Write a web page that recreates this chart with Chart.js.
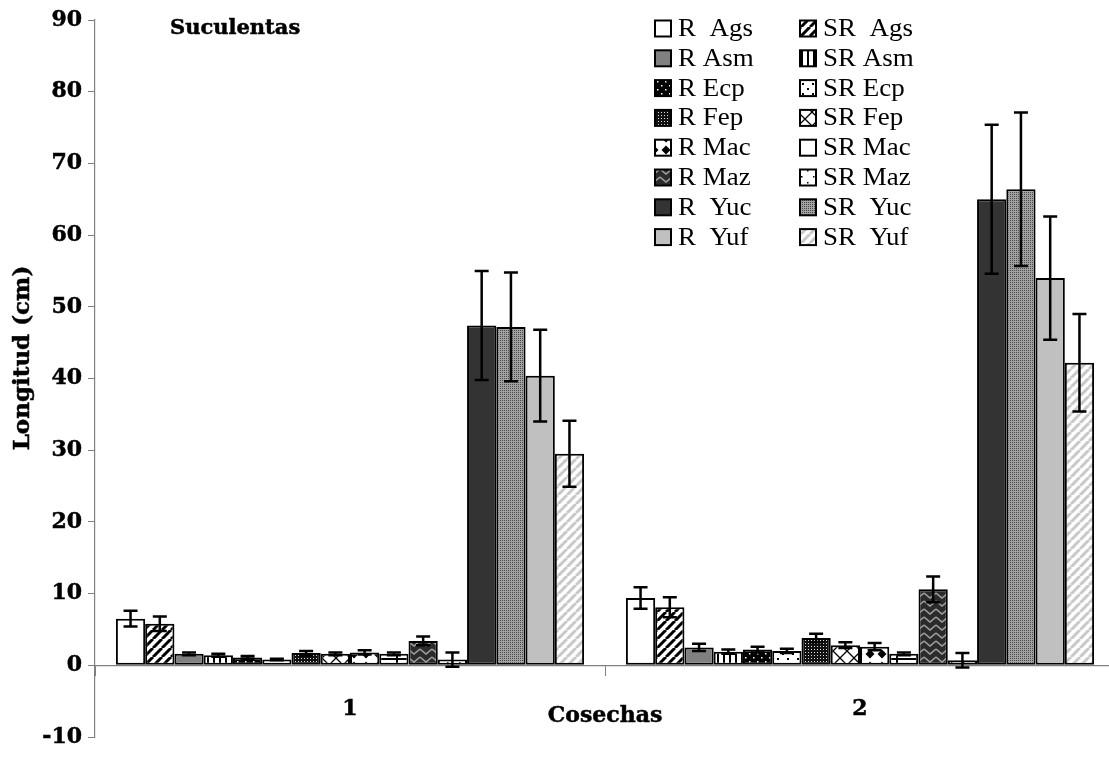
<!DOCTYPE html>
<html>
<head>
<meta charset="utf-8">
<script src="https://cdn.jsdelivr.net/npm/chart.js@4.4.0/dist/chart.umd.min.js"></script>
<style>
  html, body { margin: 0; padding: 0; background: #fff; overflow: hidden; }
  #wrap { width: 1125px; height: 758px; position: relative; }
</style>
</head>
<body>
<div id="wrap"><canvas id="c"></canvas></div>
<script>
// Cosechas (harvests) on the category axis
const cosechas = ['1', '2'];

// Series: rooted (R) and non-rooted (SR) cuttings per species
const seriesLabels = [
  'R  Ags', 'SR  Ags', 'R Asm', 'SR Asm', 'R Ecp', 'SR Ecp', 'R Fep', 'SR Fep',
  'R Mac', 'SR Mac', 'R Maz', 'SR Maz', 'R  Yuc', 'SR  Yuc', 'R  Yuf', 'SR  Yuf'
];

// Mean length (cm) and error, harvest 1
const mediaCosecha1 = [6.5, 5.8, 1.6, 1.4, 1.1, 0.8, 1.7, 1.6, 1.8, 1.6, 3.4, 0.8, 47.4, 47.2, 40.4, 29.5];
const errorCosecha1 = [1.1, 1.0, 0.2, 0.2, 0.2, 0.1, 0.3, 0.2, 0.3, 0.2, 0.6, 1.0, 7.6, 7.6, 6.4, 4.6];

// Mean length (cm) and error, harvest 2
const mediaCosecha2 = [9.4, 8.1, 2.5, 1.9, 2.2, 2.0, 3.8, 2.8, 2.6, 1.6, 10.6, 0.7, 65.0, 66.4, 54.0, 42.2];
const errorCosecha2 = [1.5, 1.4, 0.5, 0.3, 0.4, 0.3, 0.6, 0.4, 0.5, 0.2, 1.8, 1.0, 10.4, 10.7, 8.6, 6.8];

// Value axis ticks
const yTicks = [-10, 0, 10, 20, 30, 40, 50, 60, 70, 80, 90];

// ---------- fill patterns ----------
function tile(w, h, bg, draw) {
  const c = document.createElement('canvas');
  c.width = w; c.height = h;
  const g = c.getContext('2d');
  g.fillStyle = bg; g.fillRect(0, 0, w, h);
  if (draw) draw(g, w, h);
  return g.createPattern(c, 'repeat');
}
function diag(color, lw) {
  return (g, s) => {
    g.strokeStyle = color; g.lineWidth = lw;
    for (const o of [-s, 0, s]) { g.beginPath(); g.moveTo(o, s); g.lineTo(o + s, 0); g.stroke(); }
  };
}
const fills = [
  '#ffffff',                                                     // R Ags
  tile(9, 9, '#fff', diag('#000', 3)),                           // SR Ags
  '#808080',                                                     // R Asm
  tile(6, 6, '#fff', g => { g.fillStyle = '#000'; g.fillRect(3, 0, 2, 6); }), // SR Asm
  tile(8, 8, '#000', g => { g.fillStyle = '#fff'; g.fillRect(1, 1, 1.5, 1.5); g.fillRect(5, 5, 1.5, 1.5); }), // R Ecp
  tile(10, 10, '#fff', g => { g.fillStyle = '#000'; g.fillRect(2, 3, 2, 2); g.fillRect(7, 8, 2, 2); }), // SR Ecp
  tile(3, 3, '#111', g => { g.fillStyle = '#ddd'; g.fillRect(1, 1, 1, 1); }), // R Fep
  tile(14, 14, '#fff', g => {                                   // SR Fep
    g.strokeStyle = '#000'; g.lineWidth = 1.3;
    g.beginPath(); g.moveTo(0, 0); g.lineTo(14, 14); g.moveTo(14, 0); g.lineTo(0, 14); g.stroke();
  }),
  tile(12, 12, '#fff', g => {                                   // R Mac
    g.fillStyle = '#000';
    g.beginPath(); g.moveTo(6, 1.5); g.lineTo(10.5, 6); g.lineTo(6, 10.5); g.lineTo(1.5, 6); g.closePath(); g.fill();
  }),
  tile(20, 20, '#fff', g => { g.fillStyle = '#000'; g.fillRect(16, 0, 2, 20); g.fillRect(0, 18, 20, 2); }), // SR Mac
  tile(12, 8, '#2b2b2b', g => {                                 // R Maz
    g.strokeStyle = '#a0a0a0'; g.lineWidth = 1.6;
    g.beginPath(); g.moveTo(0, 1); g.lineTo(6, 6); g.lineTo(12, 1); g.stroke();
  }),
  tile(12, 12, '#fff', g => { g.fillStyle = '#000'; g.fillRect(3, 2, 1.5, 1.5); g.fillRect(9, 8, 1.5, 1.5); }), // SR Maz
  '#333333',                                                     // R Yuc
  tile(4, 4, '#a2a2a2', g => { g.fillStyle = '#4a4a4a'; g.fillRect(0, 0, 1, 1); g.fillRect(2, 2, 1, 1); g.fillRect(2, 0, 1, 1); g.fillRect(0, 2, 1, 1); }), // SR Yuc
  '#c0c0c0',                                                     // R Yuf
  tile(9, 9, '#fff', diag('#c8c8c8', 3))                         // SR Yuf
];

const datasets = seriesLabels.map((label, i) => ({
  label,
  data: [mediaCosecha1[i], mediaCosecha2[i]],
  errors: [errorCosecha1[i], errorCosecha2[i]],
  backgroundColor: fills[i],
  borderColor: '#000',
  borderWidth: 2,
  borderSkipped: false
}));

// ---------- plugins ----------
const errorBars = {
  id: 'errorBars',
  afterDatasetsDraw(chart) {
    const { ctx } = chart;
    const y = chart.scales.y;
    ctx.save();
    ctx.strokeStyle = '#000';
    ctx.lineWidth = 2.5;
    chart.data.datasets.forEach((ds, i) => {
      chart.getDatasetMeta(i).data.forEach((bar, j) => {
        const v = ds.data[j], e = ds.errors[j];
        const top = y.getPixelForValue(v + e), bot = y.getPixelForValue(v - e);
        ctx.beginPath();
        ctx.moveTo(bar.x, top); ctx.lineTo(bar.x, bot);
        ctx.moveTo(bar.x - 7, top); ctx.lineTo(bar.x + 7, top);
        ctx.moveTo(bar.x - 7, bot); ctx.lineTo(bar.x + 7, bot);
        ctx.stroke();
      });
    });
    ctx.restore();
  }
};

const twoColumnLegend = {
  id: 'twoColumnLegend',
  afterDraw(chart) {
    const { ctx } = chart;
    ctx.save();
    chart.data.datasets.forEach((ds, i) => {
      const col = i % 2, row = Math.floor(i / 2);
      const bx = col === 0 ? 655 : 800;
      const cy = 28.5 + row * 29.8;
      ctx.fillStyle = ds.backgroundColor;
      ctx.fillRect(bx, cy - 8, 16, 16);
      ctx.lineWidth = 2; ctx.strokeStyle = '#000';
      ctx.strokeRect(bx, cy - 8, 16, 16);
      ctx.save();
      ctx.translate(bx + 23, cy);
      ctx.scale(1.1, 1);
      ctx.fillStyle = '#000';
      ctx.font = '24.5px "Liberation Serif"';
      ctx.textBaseline = 'middle';
      ctx.textAlign = 'left';
      ctx.fillText(ds.label, 0, 1);
      ctx.restore();
    });
    ctx.restore();
  }
};

function boldText(ctx, text, x, y) {
  ctx.fillText(text, x, y);
  ctx.strokeText(text, x, y);
}

const captions = {
  id: 'captions',
  afterDraw(chart) {
    const { ctx, chartArea } = chart;
    ctx.save();
    ctx.fillStyle = '#000';
    ctx.strokeStyle = '#000';
    ctx.lineWidth = 0.5;
    ctx.textBaseline = 'middle';
    ctx.font = 'bold 21px "DejaVu Serif"';
    ctx.textAlign = 'left';
    boldText(ctx, 'Suculentas', 170, 29);
    ctx.textAlign = 'center';
    ctx.font = 'bold 22px "DejaVu Serif"';
    boldText(ctx, 'Cosechas', (chartArea.left + chartArea.right) / 2, 716);
    ctx.font = 'bold 23px "DejaVu Serif"';
    ctx.translate(23, 358);
    ctx.rotate(-Math.PI / 2);
    boldText(ctx, 'Longitud (cm)', 0, 0);
    ctx.restore();
  }
};

const tickFont = { family: 'DejaVu Serif', weight: 'bold', size: 22 };

new Chart(document.getElementById('c'), {
  type: 'bar',
  data: { labels: cosechas, datasets },
  plugins: [errorBars, twoColumnLegend, captions],
  options: {
    responsive: true,
    maintainAspectRatio: false,
    animation: false,
    datasets: { bar: { categoryPercentage: 0.918, barPercentage: 1 } },
    layout: { padding: { top: 20, bottom: 21, left: 0, right: 10 } },
    plugins: { legend: { display: false }, tooltip: { enabled: false } },
    scales: {
      x: {
        position: { y: 0 },
        offset: true,
        border: { color: '#808080', width: 1.2 },
        grid: { display: true, drawOnChartArea: false, offset: true, color: '#808080', tickLength: 10 },
        ticks: { color: '#000', padding: 21, font: tickFont, textStrokeColor: '#000', textStrokeWidth: 0.5 }
      },
      y: {
        min: -10, max: 90,
        afterBuildTicks: s => { s.ticks = yTicks.map(v => ({ value: v })); },
        afterFit: s => { s.width = 95; },
        border: { color: '#808080', width: 1.2 },
        grid: { display: true, drawOnChartArea: false, color: '#808080', tickLength: 7 },
        ticks: { color: '#000', padding: 6, font: tickFont, textStrokeColor: '#000', textStrokeWidth: 0.5 }
      }
    }
  }
});
</script>
</body>
</html>
